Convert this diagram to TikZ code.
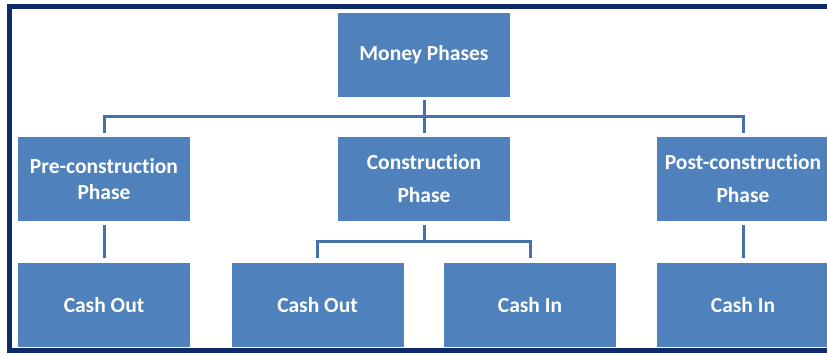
\documentclass[tikz,border=0pt]{standalone}
\usepackage{fontspec}
\setmainfont{Carlito}[Ligatures = NoCommon]
\definecolor{boxblue}{HTML}{4F81BD}
\definecolor{lineblue}{HTML}{4472AA}
\definecolor{navy}{HTML}{0F2A6A}
\begin{document}
\begin{tikzpicture}[
                x = 1pt, y = -1pt,
                box/.style = {fill = boxblue, text = white, align = center, inner sep = 0pt,
                              minimum width = 172pt, minimum height = 84pt,
                              font = \bfseries\fontsize{21.5}{33}\selectfont},
                link/.style = {draw = lineblue, line width = 3pt, shorten <= 4pt, shorten >= 4pt},
                frame/.style = {draw = navy, line width = 5pt},
            ]
            \useasboundingbox (0, 0) rectangle (827, 354);
            \draw[frame] (9.5, 6) rectangle (845, 350.5);

            \node (money) at (424, 55) [box] {Money Phases};

            \node (pre) at (104, 179) [box, font = \bfseries\fontsize{21.5}{26}\selectfont] {Pre-construction\\Phase};
            \node (con) at (424, 179) [box] {Construction\\Phase};
            \node (post) at (743, 179) [box] {Post-construction\\Phase};

            \node (preout) at (104, 305) [box] {Cash Out};
            \node (conout) at (317.5, 305) [box] {Cash Out};
            \node (conin) at (530, 305) [box] {Cash In};
            \node (postin) at (743, 305) [box] {Cash In};

            \coordinate (top) at (424, 116.5);
            \coordinate (split) at (424, 241);

            \path[link, shorten <= 3pt] (money) -- (con);
            \path[link] (pre) |- (top) -| (post);

            \path[link, shorten >= 5pt] (pre) -- (preout);
            \path[link, shorten >= 0pt] (con) -- (split);
            \path[link, shorten <= 5pt, shorten >= 5pt] (conout) |- (split) -| (conin);
            \path[link, shorten >= 5pt] (post) -- (postin);
        \end{tikzpicture}
\end{document}
